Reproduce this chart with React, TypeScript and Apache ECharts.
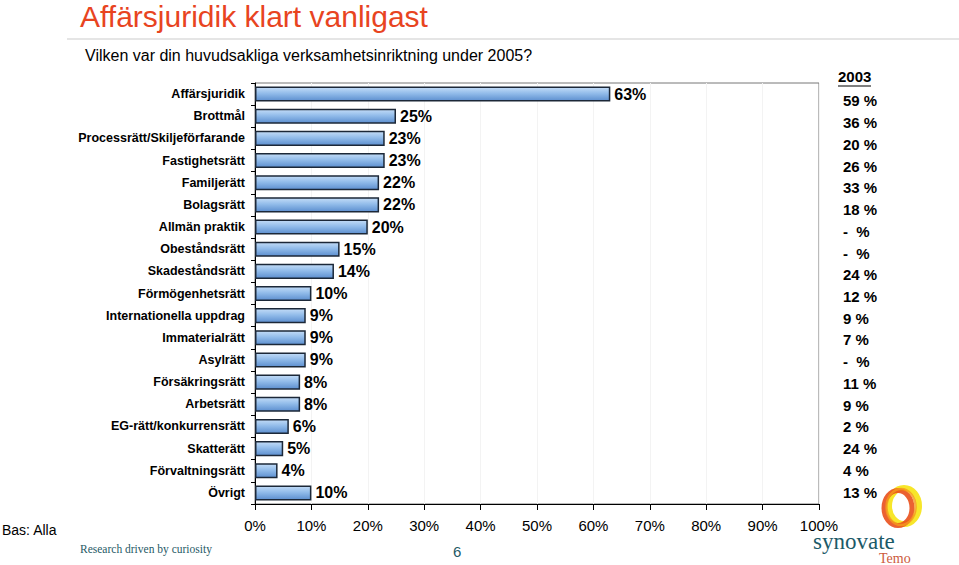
import React, { useEffect, useRef } from "react";
import * as echarts from "echarts";

const categories = [
  "Affärsjuridik",
  "Brottmål",
  "Processrätt/Skiljeförfarande",
  "Fastighetsrätt",
  "Familjerätt",
  "Bolagsrätt",
  "Allmän praktik",
  "Obeståndsrätt",
  "Skadeståndsrätt",
  "Förmögenhetsrätt",
  "Internationella uppdrag",
  "Immaterialrätt",
  "Asylrätt",
  "Försäkringsrätt",
  "Arbetsrätt",
  "EG-rätt/konkurrensrätt",
  "Skatterätt",
  "Förvaltningsrätt",
  "Övrigt",
];
const values2005 = [63, 25, 23, 23, 22, 22, 20, 15, 14, 10, 9, 9, 9, 8, 8, 6, 5, 4, 10];
const labels2003 = [
  "59 %", "36 %", "20 %", "26 %", "33 %", "18 %", "-  %", "-  %", "24 %", "12 %",
  "9 %", "7 %", "-  %", "11 %", "9 %", "2 %", "24 %", "4 %", "13 %",
];
const title = "Affärsjuridik klart vanligast";
const subtitle = "Vilken var din huvudsakliga verksamhetsinriktning under 2005?";

const FONT = "Arial, 'Liberation Sans', Helvetica, sans-serif";
const SERIF = "'Liberation Serif', 'DejaVu Serif', serif";

export default function App() {
  const ref = useRef<HTMLDivElement>(null);
  useEffect(() => {
    if (!ref.current) return;
    const chart = echarts.init(ref.current, null, { renderer: "svg" });
    chart.setOption({
      animation: false,
      backgroundColor: "#ffffff",
      textStyle: { fontFamily: FONT },
      grid: [
        { left: 255, right: 140, top: 83, bottom: 61, show: true, borderColor: "#777", borderWidth: 1, backgroundColor: "transparent" },
        { left: 843, width: 60, top: 90, bottom: 62 },
      ],
      xAxis: [
        {
          gridIndex: 0,
          type: "value",
          min: 0,
          max: 100,
          interval: 10,
          axisLine: { show: true, lineStyle: { color: "#000", width: 1 } },
          axisTick: { show: true, length: 6, lineStyle: { color: "#000" } },
          axisLabel: { formatter: "{value}%", color: "#000", fontSize: 15, margin: 14, fontFamily: FONT },
          splitLine: { show: true, lineStyle: { color: "#f3f3f3", width: 1 } },
        },
        { gridIndex: 1, type: "value", show: false, min: 0, max: 1 },
      ],
      yAxis: [
        {
          gridIndex: 0,
          type: "category",
          inverse: true,
          data: categories,
          axisLine: { show: true, lineStyle: { color: "#000", width: 1 } },
          axisTick: { show: true, length: 4, lineStyle: { color: "#000" } },
          axisLabel: { color: "#000", fontSize: 12.5, fontWeight: "bold", margin: 10, fontFamily: FONT },
        },
        {
          gridIndex: 1,
          type: "category",
          inverse: true,
          data: labels2003,
          axisLine: { show: false },
          axisTick: { show: false },
          axisLabel: { inside: true, margin: 0, color: "#000", fontSize: 15, fontWeight: "bold", fontFamily: FONT },
        },
      ],
      series: [
        {
          type: "bar",
          xAxisIndex: 0,
          yAxisIndex: 0,
          data: values2005,
          barCategoryGap: "32%",
          itemStyle: {
            color: new echarts.graphic.LinearGradient(0, 0, 0, 1, [
              { offset: 0, color: "#c3dcf7" },
              { offset: 0.45, color: "#92bcea" },
              { offset: 1, color: "#5d8fcf" },
            ]),
            borderColor: "#1c2838",
            borderWidth: 1.5,
          },
          label: {
            show: true,
            position: "right",
            distance: 4,
            formatter: "{c}%",
            color: "#000",
            fontSize: 16,
            fontWeight: "bold",
            fontFamily: FONT,
          },
        },
      ],
      graphic: [
        { type: "text", left: 80, top: 1, style: { text: title, fill: "#e8441f", font: `30px ${FONT}` } },
        { type: "line", shape: { x1: 67, y1: 39, x2: 959, y2: 39 }, style: { stroke: "#dddddd", lineWidth: 1.5 } },
        { type: "text", left: 85, top: 47, style: { text: subtitle, fill: "#000", font: `16px ${FONT}` } },
        { type: "text", left: 838, top: 69, style: { text: "2003", fill: "#000", font: `bold 15px ${FONT}` } },
        { type: "line", shape: { x1: 838, y1: 86, x2: 871, y2: 86 }, style: { stroke: "#000", lineWidth: 1.2 } },
        { type: "text", left: 2, top: 523, style: { text: "Bas: Alla", fill: "#000", font: `14px ${FONT}` } },
        { type: "text", left: 80, top: 543, style: { text: "Research driven by curiosity", fill: "#1f5a66", font: `11.5px ${SERIF}` } },
        { type: "text", left: 453, top: 544, style: { text: "6", fill: "#1f5a66", font: `15px ${FONT}` } },
        { type: "ellipse", shape: { cx: 904, cy: 506, rx: 15, ry: 18 }, style: { fill: "none", stroke: "#f7e62a", lineWidth: 6 } },
        { type: "ellipse", shape: { cx: 898, cy: 508, rx: 14, ry: 17.5 }, style: { fill: "none", stroke: "#e9501c", lineWidth: 5, opacity: 0.9 } },
        { type: "ellipse", shape: { cx: 901, cy: 507, rx: 14.5, ry: 18 }, style: { fill: "none", stroke: "#f59a1e", lineWidth: 2.5, opacity: 0.8 } },
        { type: "text", left: 813, top: 530, style: { text: "synovate", fill: "#1c5a68", font: `23px ${SERIF}`, lineHeight: 18 } },
        { type: "text", left: 879, top: 551, style: { text: "Temo", fill: "#cc5a3c", font: `14px ${SERIF}`, lineHeight: 13 } },
      ],
    });
    return () => chart.dispose();
  }, []);
  return <div ref={ref} style={{ position: "absolute", left: 0, top: 0, width: 959, height: 565 }} />;
}
